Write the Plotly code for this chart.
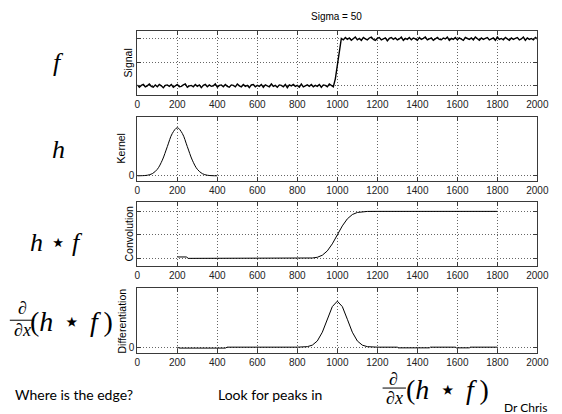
import plotly.graph_objects as go

W, H = 562, 414

# ---------------- data ----------------
x_tick_vals = [0, 200, 400, 600, 800, 1000, 1200, 1400, 1600, 1800, 2000]

sig_x = list(range(0, 2001, 10))
sig_low = [0.02, -0.03, 0.01, 0.03, -0.02, 0.00, 0.04, -0.01, -0.03, 0.02,
           -0.02, 0.03, 0.00, -0.04, 0.01, 0.02, -0.01, 0.03, -0.03, 0.01,
           0.03, -0.02, -0.01, 0.02, 0.04, -0.03, 0.00, 0.01, -0.02, 0.03,
           -0.01, 0.02, -0.04, 0.01, 0.03, -0.02, 0.02, -0.01, 0.00, 0.04,
           -0.03, 0.01, 0.02, -0.02, 0.03, -0.01, -0.03, 0.02, 0.01, -0.02,
           0.04, 0.00, -0.02, 0.03, -0.01, 0.01, -0.04, 0.02, 0.03, -0.02,
           0.01, -0.01, 0.03, -0.03, 0.02, 0.00, -0.02, 0.04, -0.01, 0.01,
           -0.03, 0.02, 0.01, -0.02, 0.03, -0.04, 0.02, 0.00, 0.03, -0.01,
           0.01, -0.03, 0.04, -0.02, 0.00, 0.02, -0.01, 0.03, -0.02, 0.01,
           -0.01, 0.03, -0.03, 0.02, 0.01, -0.02, 0.04, 0.00, -0.02]
sig_step = [0.15, 0.45, 0.75]
sig_high = [1.01, 0.98, 1.03, 0.99, 1.02, 0.97, 1.00, 1.04, 0.98, 1.01,
            0.97, 1.03, 1.00, 0.98, 1.02, 1.04, 0.99, 0.97, 1.01, 1.03,
            0.98, 1.00, 1.02, 0.96, 1.01, 1.03, 0.99, 1.02, 0.98, 1.00,
            1.04, 0.97, 1.01, 0.99, 1.03, 0.98, 1.02, 1.00, 0.97, 1.03,
            0.99, 1.01, 1.04, 0.98, 1.00, 1.02, 0.97, 1.01, 1.03, 0.99,
            0.98, 1.02, 1.00, 1.04, 0.97, 1.01, 0.99, 1.03, 0.98, 1.02,
            1.00, 0.97, 1.03, 1.01, 0.99, 1.02, 0.98, 1.04, 1.00, 0.97,
            1.02, 0.99, 1.01, 1.03, 0.98, 1.00, 1.02, 0.97, 1.04, 0.99,
            1.01, 0.98, 1.03, 1.00, 0.97, 1.02, 0.99, 1.01, 1.03, 0.98,
            1.00, 1.04, 0.97, 1.02, 0.99, 1.01, 0.98, 1.03, 1.00]
sig_y = sig_low + sig_step + sig_high

kern_x = [0, 25, 50, 75, 100, 125, 150, 175, 200, 225, 250, 275, 300, 325, 350, 375, 400]
kern_y = [0.0, 0.002, 0.011, 0.044, 0.135, 0.325, 0.607, 0.882, 1.0,
          0.882, 0.607, 0.325, 0.135, 0.044, 0.011, 0.002, 0.0]

conv_x = [200, 245, 255, 800, 850, 875, 900, 925, 950, 975, 1000,
          1025, 1050, 1075, 1100, 1125, 1150, 1200, 1800]
conv_y = [0.03, 0.03, 0.0, 0.0, 0.004, 0.008, 0.023, 0.067, 0.159, 0.309, 0.5,
          0.691, 0.841, 0.933, 0.977, 0.992, 0.999, 1.0, 1.0]

diff_x = [200, 210, 440, 450, 800, 850, 875, 900, 925, 950, 975, 1000,
          1025, 1050, 1075, 1100, 1125, 1150, 1200, 1300, 1305, 1460, 1465,
          1590, 1595, 1660, 1665, 1800]
diff_y = [0.0, -0.02, -0.02, 0.0, 0.0, 0.011, 0.044, 0.135, 0.325, 0.607, 0.882, 1.0,
          0.882, 0.607, 0.325, 0.135, 0.044, 0.011, 0.0, 0.0, -0.015, -0.015, 0.0,
          0.0, -0.015, -0.015, 0.0, 0.0]

panel_titles = ["Signal", "Kernel", "Convolution", "Differentiation"]

# ---------------- layout helpers ----------------
X0, X1 = 138, 549
panels_px = [(31, 95), (117, 181), (202, 267), (289, 354)]
y_ranges = [[-0.19, 1.17], [-0.1, 1.23], [-0.17, 1.21], [-0.13, 1.28]]
y_ticks = [[0, 0.5, 1], [0], [0, 0.5, 1], [0]]
y_showlabels = [False, True, False, True]
title_x = [128, 121, 129, 122]

AX = "#3a3a3a"
TICKFONT = dict(family="Liberation Sans", size=10, color="#222")


def px_x(p):
    return p / W


def px_y(p):
    return 1 - p / H


fig = go.Figure()
series = [(sig_x, sig_y, "linear", 1.4), (kern_x, kern_y, "spline", 1),
          (conv_x, conv_y, "linear", 1), (diff_x, diff_y, "linear", 1)]
for i, (xs, ys, shp, lw) in enumerate(series):
    sfx = "" if i == 0 else str(i + 1)
    fig.add_trace(go.Scatter(x=xs, y=ys, mode="lines", xaxis="x" + sfx, yaxis="y" + sfx,
                             line=dict(color="black", width=lw, shape=shp),
                             showlegend=False, hoverinfo="skip"))

layout = dict(width=W, height=H, margin=dict(l=0, r=0, t=0, b=0),
              paper_bgcolor="white", plot_bgcolor="white", showlegend=False)

GRID = dict(showgrid=True, gridcolor="#666", griddash="1px,2px", gridwidth=1)

for i in range(4):
    sfx = "" if i == 0 else str(i + 1)
    top, bot = panels_px[i]
    layout["xaxis" + sfx] = dict(
        domain=[px_x(X0), px_x(X1)], range=[0, 2000], anchor="y" + sfx,
        tickmode="array", tickvals=x_tick_vals, ticks="inside", ticklen=4,
        tickcolor=AX, showline=True, linecolor=AX, linewidth=1, mirror="ticks",
        zeroline=False, tickfont=TICKFONT, fixedrange=True,
        ticklabeloverflow="allow", **GRID)
    layout["yaxis" + sfx] = dict(
        domain=[px_y(bot), px_y(top)], range=y_ranges[i], anchor="x" + sfx,
        tickmode="array", tickvals=y_ticks[i], ticktext=["0"] * len(y_ticks[i]),
        showticklabels=y_showlabels[i], ticks="inside", ticklen=4,
        tickcolor=AX, showline=True, linecolor=AX, linewidth=1, mirror="ticks",
        zeroline=False, tickfont=TICKFONT, fixedrange=True, **GRID)

SERIF = "Liberation Serif"
SANS = "Liberation Sans"
SLIDE = "Lato"
D = "\u2202"
STAR = "\u22c6"


def ann(text, px, py, size, family, angle=0, xanchor="center"):
    return dict(text=text, x=px_x(px), y=px_y(py), xref="paper", yref="paper",
                showarrow=False, xanchor=xanchor, yanchor="middle", textangle=angle,
                font=dict(size=size, family=family, color="black"))


anns = [ann("Sigma = 50", 343, 17, 10, SANS)]
for i in range(4):
    top, bot = panels_px[i]
    anns.append(ann(panel_titles[i], title_x[i], (top + bot) / 2, 10.5, SANS, angle=-90))

anns += [
    ann("<i>f</i>", 57, 63, 26, SERIF),
    ann("<i>h</i>", 57, 150, 26, SERIF),
    ann("<i>h</i>\u2005" + STAR + "\u2005<i>f</i>", 55, 243, 26, SERIF),
    ann(D, 20, 309, 18, SERIF),
    ann(D + "<i>x</i>", 20, 331, 18, SERIF),
    ann("(<i>h</i>\u2004" + STAR + "\u2004<i>f</i>\u2009)", 70, 322, 28, SERIF),
    ann("Where is the edge?", 73, 395, 14, SLIDE),
    ann("Look for peaks in", 274, 395, 14, SLIDE),
    ann(D, 401, 380, 18, SERIF),
    ann(D + "<i>x</i>", 402, 399, 18, SERIF),
    ann("(<i>h</i>\u2004" + STAR + "\u2004<i>f</i>\u2009)", 457, 390, 28, SERIF),
    ann("Dr Chris", 537, 408, 12, SLIDE),
]
layout["annotations"] = anns

layout["shapes"] = [
    dict(type="line", xref="paper", yref="paper", x0=px_x(7), x1=px_x(32),
         y0=px_y(321), y1=px_y(321), line=dict(color="black", width=1)),
    dict(type="line", xref="paper", yref="paper", x0=px_x(390), x1=px_x(414),
         y0=px_y(389), y1=px_y(389), line=dict(color="black", width=1)),
]

fig.update_layout(**layout)
fig.write_html("out.html", config={"displayModeBar": False},
               post_script="document.body.style.margin='0px';")
